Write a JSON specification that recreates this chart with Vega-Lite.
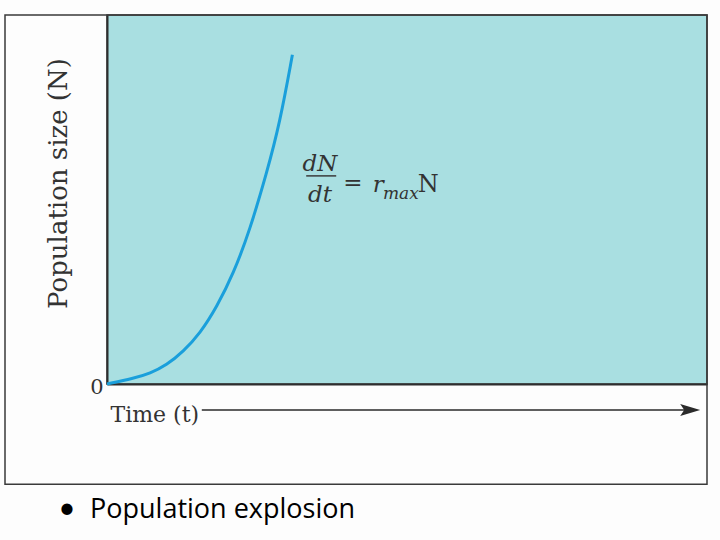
{
  "$schema": "https://vega.github.io/schema/vega-lite/v6.json",
  "width": 600,
  "height": 369,
  "autosize": {"type": "none"},
  "padding": {"left": 107, "top": 15, "right": 13, "bottom": 156},
  "background": "#fdfdfd",
  "view": {"fill": "#a9dfe1", "stroke": "#3a3a3a", "strokeWidth": 1.5},
  "datasets": {
    "curve": [
      {"t": 0, "N": 0},
      {"t": 4.4, "N": 1.5},
      {"t": 7.2, "N": 2.9},
      {"t": 9.9, "N": 5.1},
      {"t": 12.7, "N": 8.8},
      {"t": 15.5, "N": 13.7},
      {"t": 18.3, "N": 20.9},
      {"t": 21.1, "N": 30.0},
      {"t": 23.8, "N": 41.7},
      {"t": 26.6, "N": 57.1},
      {"t": 28.8, "N": 70.7},
      {"t": 30.9, "N": 89.2}
    ],
    "frame": [{"x1": -17, "x2": 100, "y1": -27.2, "y2": 100}],
    "arrow": [{"x1": 15.8, "x2": 96.5, "y": -7.05}],
    "arrowhead": [{"x": 97.2, "y": -7.05}],
    "eqItalic": [
      {"label": "dN", "x": 35.5, "y": 57.7},
      {"label": "dt", "x": 35.5, "y": 49.3}
    ],
    "eqR": [{"label": "r", "x": 44.3, "y": 52.0}],
    "eqSub": [{"label": "max", "x": 46.0, "y": 50.1}],
    "eqUpright": [{"label": "N", "x": 51.8, "y": 52.0}],
    "eqEq": [{"label": "=", "x": 41.0, "y": 54.5}],
    "bar": [{"x1": 33.2, "x2": 38.2, "y": 56.4}],
    "bullet": [{"label": "•", "x": -6.67, "y": -36.3}],
    "caption": [{"label": "Population explosion", "x": -2.83, "y": -36.3}]
  },
  "encoding": {
    "x": {"type": "quantitative", "scale": {"domain": [0, 100]}},
    "y": {"type": "quantitative", "scale": {"domain": [0, 100]}}
  },
  "layer": [
    {
      "data": {"name": "frame"},
      "mark": {"type": "rect", "filled": false, "stroke": "#3a3a3a", "strokeWidth": 1.5},
      "encoding": {
        "x": {"field": "x1", "type": "quantitative", "scale": {"domain": [0, 100]},
          "axis": {"title": "Time (t)", "domain": true, "domainColor": "#2e2e2e", "domainWidth": 2, "ticks": false, "labels": false, "grid": false,
            "titleFont": "DejaVu Serif", "titleFontSize": 22, "titleFontWeight": "normal", "titleColor": "#333333",
            "titleAnchor": "start", "titleAlign": "left", "titleBaseline": "alphabetic", "titleX": 3, "titleY": 37}},
        "x2": {"field": "x2"},
        "y": {"field": "y1", "type": "quantitative", "scale": {"domain": [0, 100]},
          "axis": {"title": "Population size (N)", "values": [0], "domain": true, "domainColor": "#2e2e2e", "domainWidth": 2, "ticks": false, "grid": false,
            "labelFont": "DejaVu Serif", "labelFontSize": 21, "labelColor": "#333333", "labelPadding": 4, "labelOffset": 3,
            "titleFont": "DejaVu Serif", "titleFontSize": 26, "titleFontWeight": "normal", "titleColor": "#333333",
            "titleY": 168, "titlePadding": 18}},
        "y2": {"field": "y2"}
      }
    },
    {
      "data": {"name": "curve"},
      "mark": {"type": "line", "color": "#1a9fdb", "strokeWidth": 3, "interpolate": "basis"},
      "encoding": {
        "x": {"field": "t", "type": "quantitative"},
        "y": {"field": "N", "type": "quantitative"}
      }
    },
    {
      "data": {"name": "arrow"},
      "mark": {"type": "rule", "color": "#2a2a2a", "strokeWidth": 1.5},
      "encoding": {
        "x": {"field": "x1", "type": "quantitative"},
        "x2": {"field": "x2"},
        "y": {"field": "y", "type": "quantitative"}
      }
    },
    {
      "data": {"name": "arrowhead"},
      "mark": {"type": "point", "shape": "M-1,-0.6L1,0L-1,0.6L-0.6,0Z", "filled": true, "color": "#2a2a2a", "size": 400, "opacity": 1},
      "encoding": {
        "x": {"field": "x", "type": "quantitative"},
        "y": {"field": "y", "type": "quantitative"}
      }
    },
    {
      "data": {"name": "bar"},
      "mark": {"type": "rule", "color": "#3a3a3a", "strokeWidth": 1.5},
      "encoding": {
        "x": {"field": "x1", "type": "quantitative"},
        "x2": {"field": "x2"},
        "y": {"field": "y", "type": "quantitative"}
      }
    },
    {
      "data": {"name": "eqItalic"},
      "mark": {"type": "text", "font": "DejaVu Serif", "fontStyle": "italic", "fontSize": 23, "align": "center", "baseline": "alphabetic", "color": "#333333"},
      "encoding": {
        "x": {"field": "x", "type": "quantitative"},
        "y": {"field": "y", "type": "quantitative"},
        "text": {"field": "label"}
      }
    },
    {
      "data": {"name": "eqR"},
      "mark": {"type": "text", "font": "DejaVu Serif", "fontStyle": "italic", "fontSize": 23, "align": "left", "baseline": "alphabetic", "color": "#333333"},
      "encoding": {
        "x": {"field": "x", "type": "quantitative"},
        "y": {"field": "y", "type": "quantitative"},
        "text": {"field": "label"}
      }
    },
    {
      "data": {"name": "eqSub"},
      "mark": {"type": "text", "font": "DejaVu Serif", "fontStyle": "italic", "fontSize": 17, "align": "left", "baseline": "alphabetic", "color": "#333333"},
      "encoding": {
        "x": {"field": "x", "type": "quantitative"},
        "y": {"field": "y", "type": "quantitative"},
        "text": {"field": "label"}
      }
    },
    {
      "data": {"name": "eqUpright"},
      "mark": {"type": "text", "font": "DejaVu Serif", "fontSize": 24, "align": "left", "baseline": "alphabetic", "color": "#333333"},
      "encoding": {
        "x": {"field": "x", "type": "quantitative"},
        "y": {"field": "y", "type": "quantitative"},
        "text": {"field": "label"}
      }
    },
    {
      "data": {"name": "eqEq"},
      "mark": {"type": "text", "font": "DejaVu Serif", "fontSize": 23, "align": "center", "baseline": "middle", "color": "#333333"},
      "encoding": {
        "x": {"field": "x", "type": "quantitative"},
        "y": {"field": "y", "type": "quantitative"},
        "text": {"field": "label"}
      }
    },
    {
      "data": {"name": "bullet"},
      "mark": {"type": "text", "font": "Lato", "fontSize": 30, "align": "center", "baseline": "alphabetic", "color": "#000000"},
      "encoding": {
        "x": {"field": "x", "type": "quantitative"},
        "y": {"field": "y", "type": "quantitative"},
        "text": {"field": "label"}
      }
    },
    {
      "data": {"name": "caption"},
      "mark": {"type": "text", "font": "Open Sans", "fontSize": 27, "align": "left", "baseline": "alphabetic", "color": "#000000"},
      "encoding": {
        "x": {"field": "x", "type": "quantitative"},
        "y": {"field": "y", "type": "quantitative"},
        "text": {"field": "label"}
      }
    }
  ]
}
